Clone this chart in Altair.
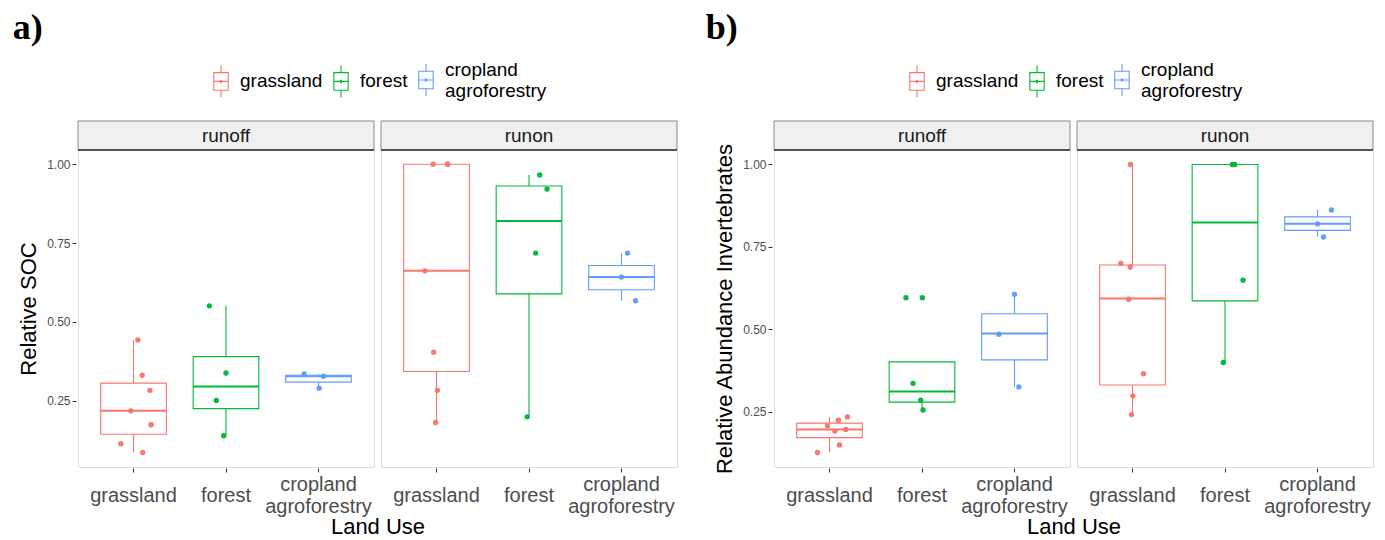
import altair as alt
import pandas as pd

FONT = "Liberation Sans, Arial, Helvetica, sans-serif"
SERIF = "Liberation Serif, Times New Roman, serif"

FLOWS = ["runoff", "runon"]
LANDS = ["grassland", "forest", "cropland agroforestry"]
COLORS = ["#F8766D", "#00BA38", "#619CFF"]
GROUPS = [(f, l) for f in FLOWS for l in LANDS]

# ---- panel a) Relative SOC : box statistics (group order = GROUPS)
A_LO = [0.086, 0.139, 0.290, 0.181, 0.199, 0.567]
A_Q1 = [0.144, 0.225, 0.309, 0.343, 0.589, 0.602]
A_MED = [0.218, 0.295, 0.328, 0.662, 0.820, 0.642]
A_Q3 = [0.306, 0.390, 0.331, 1.000, 0.931, 0.679]
A_HI = [0.443, 0.551, 0.335, 1.000, 0.966, 0.718]
# observations and their horizontal jitter (in category units)
A_VALS = [
    [0.443, 0.331, 0.283, 0.218, 0.174, 0.114, 0.086],
    [0.551, 0.338, 0.251, 0.139],
    [0.335, 0.328, 0.290],
    [1.000, 1.000, 1.000, 0.662, 0.404, 0.283, 0.181],
    [0.966, 0.921, 0.718, 0.199],
    [0.718, 0.642, 0.567],
]
A_JIT = [
    [0.047, 0.094, 0.177, -0.029, 0.190, -0.137, 0.100],
    [-0.180, 0.000, -0.105, -0.025],
    [-0.155, 0.054, 0.007],
    [-0.036, 0.120, 0.120, -0.126, -0.030, 0.010, -0.010],
    [0.116, 0.195, 0.072, -0.020],
    [0.065, 0.000, 0.152],
]

# ---- panel b) Relative Abundance Invertebrates
B_LO = [0.126, 0.255, 0.325, 0.241, 0.399, 0.781]
B_Q1 = [0.171, 0.279, 0.407, 0.331, 0.586, 0.800]
B_MED = [0.196, 0.311, 0.487, 0.593, 0.824, 0.820]
B_Q3 = [0.215, 0.401, 0.547, 0.695, 1.000, 0.841]
B_HI = [0.234, 0.401, 0.606, 1.000, 1.000, 0.862]
B_VALS = [
    [0.207, 0.191, 0.224, 0.234, 0.196, 0.149, 0.126],
    [0.596, 0.596, 0.336, 0.285, 0.255],
    [0.606, 0.485, 0.325],
    [1.000, 0.700, 0.689, 0.591, 0.365, 0.298, 0.241],
    [1.000, 1.000, 0.649, 0.399],
    [0.862, 0.820, 0.780],
]
B_JIT = [
    [-0.022, 0.058, 0.097, 0.194, 0.176, 0.108, -0.130],
    [-0.173, 0.004, -0.097, -0.014, 0.011],
    [0.000, -0.169, 0.047],
    [-0.022, -0.126, -0.025, -0.040, 0.119, 0.004, -0.011],
    [0.079, 0.105, 0.195, -0.018],
    [0.151, 0.000, 0.065],
]


def build(lo, q1, med, q3, hi, vals, jits):
    rows = []
    for i, (f, l) in enumerate(GROUPS):
        rows.append(dict(kind="box", flow=f, land=l, lo=lo[i], q1=q1[i],
                         med=med[i], q3=q3[i], hi=hi[i]))
        for v, j in zip(vals[i], jits[i]):
            rows.append(dict(kind="pt", flow=f, land=l, value=v, jit=j))
    return pd.DataFrame(rows)


W, H = 296, 317
STEP = W / 3.2
BOXW = 0.71 * STEP
STRIP = 29

GLYPH = ("M0,-1L0,-0.55M-0.45,-0.55L0.45,-0.55L0.45,0.55L-0.45,0.55Z"
         "M-0.45,0L0.45,0M0,0.55L0,1M-0.08,0L0,-0.08L0.08,0L0,0.08Z")
IS_TWO = "datum.value == 'cropland agroforestry'"
TWO_LINE = IS_TWO + " ? ['cropland', 'agroforestry'] : datum.label"


def panel(df, ytitle, ydomain, title, tdx, legx, legy):
    xs = alt.Scale(domain=LANDS, type="band", paddingInner=0, paddingOuter=0.1)
    xaxis = alt.Axis(
        title=None, labelExpr=TWO_LINE, labelAngle=0, labelFont=FONT,
        labelFontSize=20, labelColor="#4d4d4d", labelLineHeight=22,
        labelBaseline="top",
        labelPadding={"condition": {"test": IS_TWO, "value": 2}, "value": 13},
        domain=False, ticks=True, tickSize=4, tickColor="#333333", grid=False,
    )
    ys = alt.Scale(domain=ydomain, nice=False, zero=False)
    yaxis = alt.Axis(
        values=[0.25, 0.5, 0.75, 1.0], format=".2f", domain=False, grid=False,
        tickSize=4, tickColor="#333333", labelFont=FONT, labelFontSize=12,
        labelColor="#4d4d4d", labelPadding=2, titleFont=FONT, titleFontSize=22,
        titleFontWeight="normal", titleColor="black", titlePadding=6,
    )
    cs = alt.Scale(domain=LANDS, range=COLORS)
    leg = alt.Legend(
        title=None, orient="none", legendX=legx, legendY=legy,
        direction="horizontal", symbolType=GLYPH, symbolSize=1024,
        symbolStrokeWidth=1.1, symbolFillColor="white",
        labelFont=FONT, labelFontSize=19, labelColor="black",
        labelExpr=TWO_LINE, labelLimit=400,
        labelBaseline={"expr": IS_TWO + " ? 'bottom' : 'middle'"},
        columnPadding=1, labelOffset=2, padding=0,
    )
    X = alt.X("land:N", scale=xs, axis=xaxis, sort=LANDS)
    S = alt.Stroke("land:N", scale=cs, legend=leg)

    def Y(field):
        return alt.Y(field, type="quantitative", scale=ys, axis=yaxis, title=ytitle)

    base = alt.Chart()
    boxes = base.transform_filter("datum.kind == 'box'")
    pts = base.transform_filter("datum.kind == 'pt'")
    strip = base.transform_aggregate(n="count()", groupby=["flow"])

    whisk = boxes.mark_rule(strokeWidth=1.1).encode(x=X, y=Y("lo"), y2=alt.Y2("hi"), stroke=S)
    box = boxes.mark_bar(fill="white", size=BOXW, strokeWidth=1.1).encode(
        x=X, y=Y("q1"), y2=alt.Y2("q3"), stroke=S)
    med = boxes.mark_bar(fill="white", size=BOXW, strokeWidth=2).encode(
        x=X, y=Y("med"), y2=alt.Y2("med"), stroke=S)
    dots = pts.mark_point(shape="circle", size=6, strokeWidth=2.9, filled=False, opacity=1).encode(
        x=X, xOffset=alt.XOffset("jit:Q", scale=alt.Scale(domain=[-0.5, 0.5])),
        y=Y("value"), stroke=S,
    )
    strip_rect = strip.mark_rect(fill="#f0f0f0", stroke="#8a8a8a", strokeWidth=1).encode(
        x=alt.value(0), x2=alt.value(W), y=alt.value(-STRIP), y2=alt.value(0))
    strip_line = strip.mark_rule(color="#333333", strokeWidth=1.5).encode(
        x=alt.value(0), x2=alt.value(W), y=alt.value(0))
    strip_text = strip.mark_text(font=FONT, fontSize=19, color="#1a1a1a", baseline="middle").encode(
        x=alt.value(W / 2), y=alt.value(-STRIP / 2), text="flow:N")

    layered = alt.layer(whisk, box, med, dots, strip_rect, strip_line, strip_text).properties(
        width=W, height=H)
    return layered.facet(
        column=alt.Column("flow:N", sort=FLOWS, header=alt.Header(
            labels=False, title="Land Use", titleOrient="bottom", titleFont=FONT,
            titleFontSize=22, titleFontWeight="normal", titleColor="black", titlePadding=-9)),
        data=df, spacing=3,
    ).properties(title=alt.Title(title, anchor="start", font=SERIF, fontSize=36,
                                 fontWeight="bold", color="black", dx=tdx, offset=16))


df_a = build(A_LO, A_Q1, A_MED, A_Q3, A_HI, A_VALS, A_JIT)
df_b = build(B_LO, B_Q1, B_MED, B_Q3, B_HI, B_VALS, B_JIT)

ca = panel(df_a, "Relative SOC", [0.040, 1.045], "a)", -5, 126, -87)
cb = panel(df_b, "Relative Abundance Invertebrates", [0.082, 1.044], "b)", -8, 126, -87)

chart = alt.hconcat(ca, cb, spacing=26).resolve_scale(
    stroke="independent"
).resolve_legend(stroke="independent").configure_view(
    stroke="#8a8a8a", strokeWidth=1
).configure(padding={"left": 12, "top": 10, "right": 0, "bottom": 0})

chart.save("out.html", embed_options={"renderer": "svg", "actions": False})
